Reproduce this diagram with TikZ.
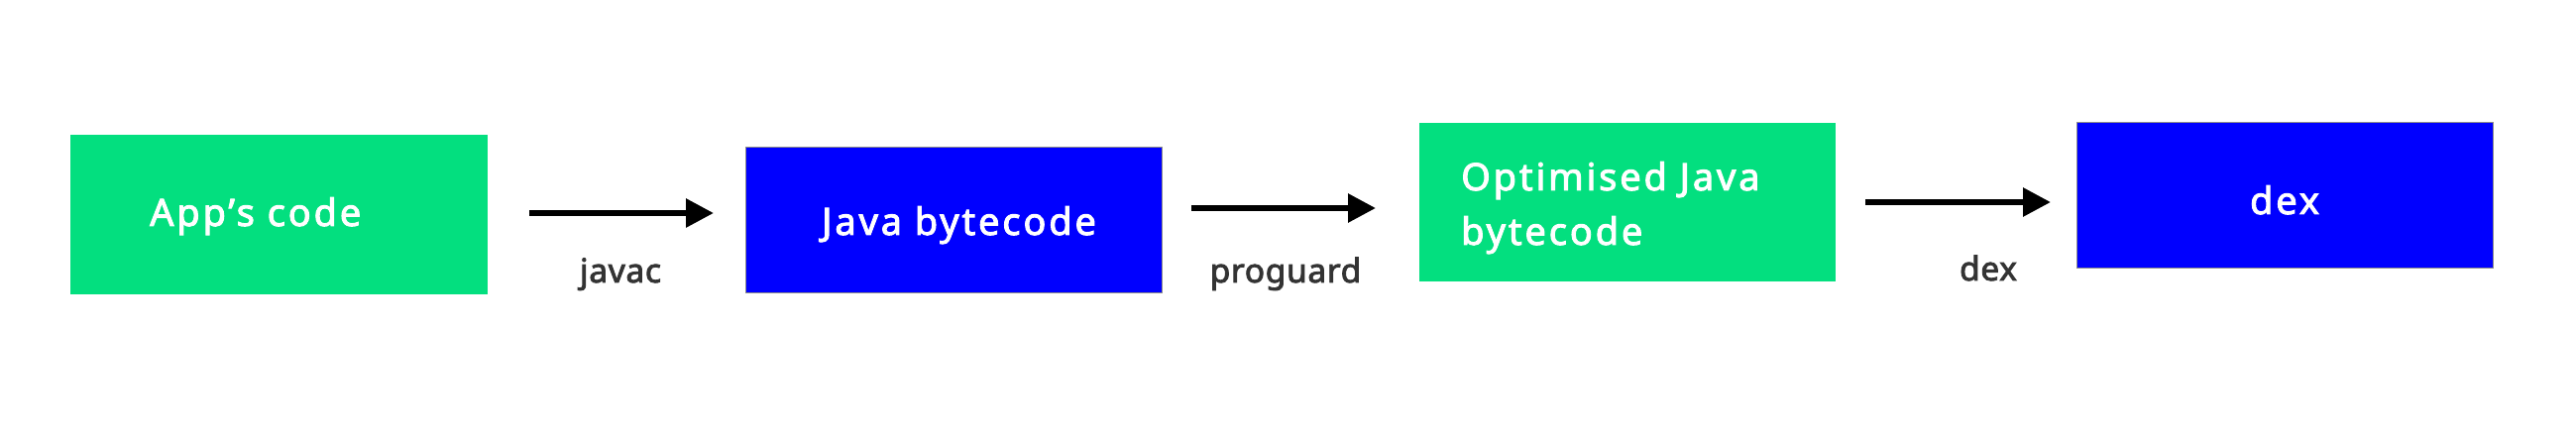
\documentclass[tikz,border=0pt]{standalone}
\usepackage{fontspec}
\setmainfont{Noto Sans}
\newfontfamily\osb{Noto Sans}[FakeBold=2.5,LetterSpace=7.5]
\newfontfamily\lsb{Noto Sans}[FakeBold=2.5,LetterSpace=2]
\usetikzlibrary{arrows.meta}
\definecolor{boxgreen}{RGB}{3,223,127}
\definecolor{boxblue}{RGB}{0,0,255}
\definecolor{labelgray}{RGB}{51,51,51}
\definecolor{edgegray}{RGB}{140,140,140}
\tikzset{
  greenbox/.style={fill=boxgreen, draw=none, rectangle, inner sep=0pt},
  bluebox/.style={fill=boxblue, draw=edgegray, line width=1pt, rectangle, inner sep=0pt},
  boxtext/.style={text=white, font=\osb\fontsize{38}{55}\selectfont, inner sep=0pt, anchor=base west},
  steplabel/.style={text=labelgray, font=\lsb\fontsize{33.5}{40}\selectfont, inner sep=0pt, anchor=base},
  flow/.style={line width=6pt, -{Triangle[length=28pt,width=28pt]}},
}
\begin{document}
\begin{tikzpicture}[x=1pt,y=-1pt]
\useasboundingbox (0,0) rectangle (2599,446);
% boxes
\node[greenbox, minimum width=421pt, minimum height=161pt] (b1) at (281.5,216.5) {};
\node[bluebox, minimum width=420pt, minimum height=147pt] (b2) at (962,222.5) {};
\node[greenbox, minimum width=420pt, minimum height=160pt] (b3) at (1642,204) {};
\node[bluebox, minimum width=420pt, minimum height=147pt] (b4) at (2305,197.5) {};
% texts
\node[boxtext] (t1) at (151,228) {App’s code};
\node[boxtext] (t2) at (829,237) {Java bytecode};
\node[boxtext, anchor=base west] (t3a) at (1474,192) {Optimised Java};
\node[boxtext, anchor=base west] (t3b) at (1474,247) {bytecode};
\node[boxtext, anchor=base] (t4) at (2305,216) {dex};
% arrows
\coordinate (a1s) at (534,215);
\coordinate (a1e) at (720,215);
\coordinate (a2s) at (1202,210);
\coordinate (a2e) at (1388,210);
\coordinate (a3s) at (1882,204);
\coordinate (a3e) at (2069,204);
\draw[flow] (a1s) -- (a1e);
\draw[flow] (a2s) -- (a2e);
\draw[flow] (a3s) -- (a3e);
% labels
\node[steplabel] (l1) at (626,285) {javac};
\node[steplabel] (l2) at (1297,285) {proguard};
\node[steplabel] (l3) at (2006,283) {dex};
\end{tikzpicture}
\end{document}
